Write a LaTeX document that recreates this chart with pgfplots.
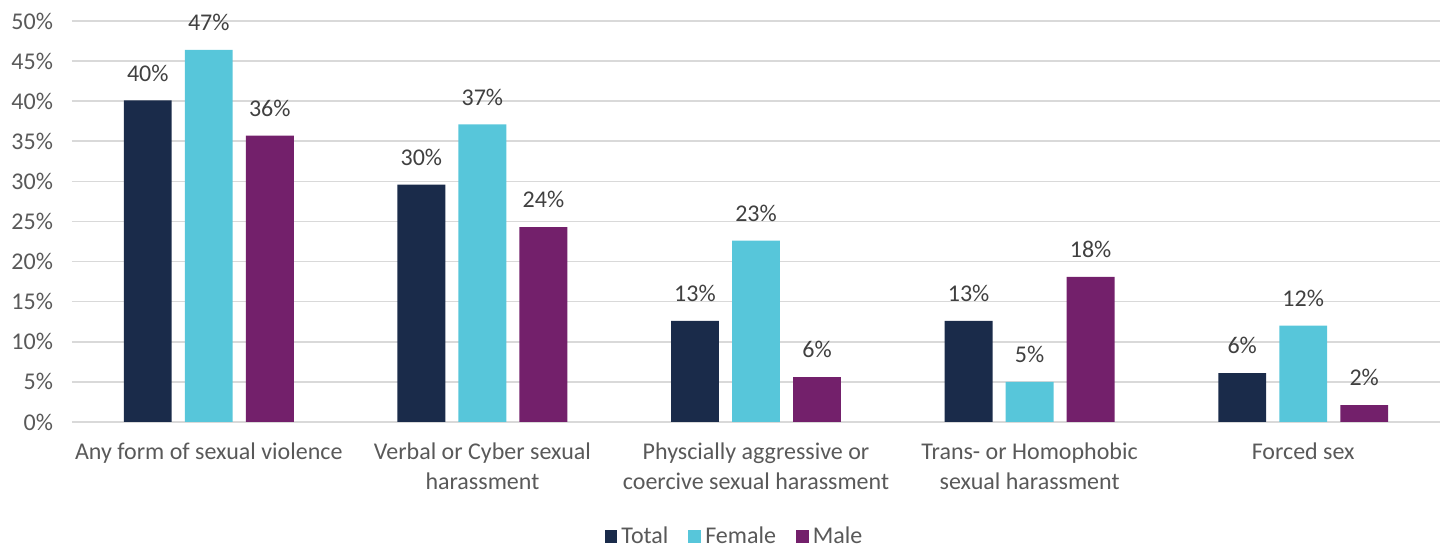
\documentclass[border=0pt]{standalone}
\usepackage{pgfplots}
\pgfplotsset{compat=1.18}
\usepackage{fontspec}
\setmainfont{Carlito}
\definecolor{cTotal}{HTML}{1A2B4A}
\definecolor{cFemale}{HTML}{57C6DA}
\definecolor{cMale}{HTML}{73206B}
\definecolor{txt}{HTML}{595959}
\definecolor{lbl}{HTML}{404040}
\definecolor{grd}{HTML}{D9D9D9}
\begin{document}
\begin{tikzpicture}
\begin{axis}[
  scale only axis,
  width=684pt, height=200.5pt,
  xmin=-0.5, xmax=4.5,
  ymin=0, ymax=50,
  ytick={0,5,...,50},
  yticklabel={\pgfmathprintnumber{\tick}\%},
  /pgf/number format/assume math mode=true,
  ymajorgrids, grid style={grd, line width=0.8pt},
  axis line style={draw=none},
  major tick length=0pt,
  xtick={0,1,2,3,4},
  xticklabels={{Any form of sexual violence},{Verbal or Cyber sexual\\harassment},{Physcially aggressive or\\coercive sexual harassment},{Trans- or Homophobic\\sexual harassment},{Forced sex}},
  xticklabel style={align=center, text=txt, font=\fontsize{12}{15}\selectfont, yshift=-7pt},
  yticklabel style={text=txt, font=\fontsize{12}{14}\selectfont, xshift=-6pt},
  ybar, bar width=0.175,
  clip=false,
  nodes near coords,
  point meta=explicit symbolic,
  every node near coord/.append style={text=lbl, font=\fontsize{12}{14}\selectfont, yshift=6pt},
  legend style={at={(0.485,-0.24)}, anchor=north, draw=none, legend columns=3,
    font=\fontsize{12}{14}\selectfont, text=txt,
    /tikz/every even column/.append style={column sep=8pt}},
  legend image code/.code={\fill[#1] (0pt,-3.2pt) rectangle (6.4pt,3.2pt);},
]
\addplot[fill=cTotal, draw=none, bar shift=-0.223] coordinates {(0,40.1)[40\%] (1,29.6)[30\%] (2,12.6)[13\%] (3,12.6)[13\%] (4,6.1)[6\%]};
\addplot[fill=cFemale, draw=none, bar shift=0] coordinates {(0,46.4)[47\%] (1,37.1)[37\%] (2,22.6)[23\%] (3,5.0)[5\%] (4,12.0)[12\%]};
\addplot[fill=cMale, draw=none, bar shift=0.223] coordinates {(0,35.7)[36\%] (1,24.3)[24\%] (2,5.6)[6\%] (3,18.1)[18\%] (4,2.1)[2\%]};
\legend{Total, Female, Male}
\path[draw=none] (rel axis cs:0,0) ++(-36pt,-61pt) (rel axis cs:1,1) ++(3.5pt,10.5pt);
\end{axis}
\end{tikzpicture}
\end{document}
